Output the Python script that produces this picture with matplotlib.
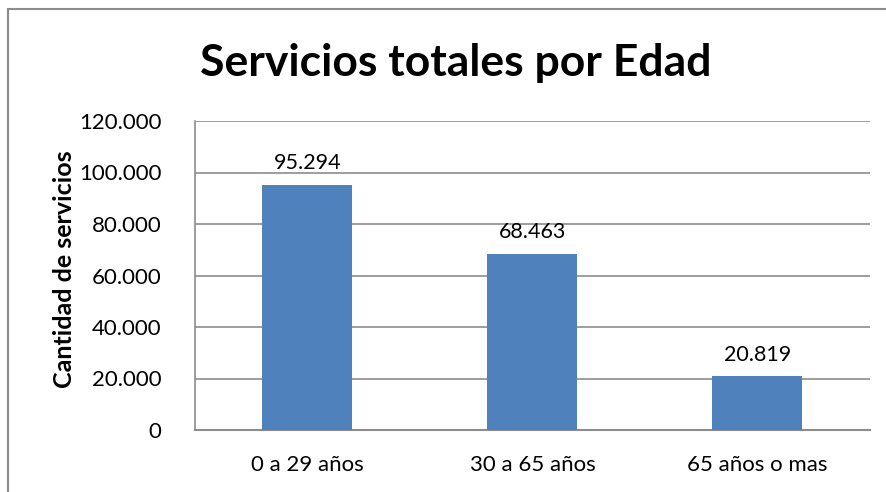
import matplotlib.pyplot as plt
from matplotlib.patches import Rectangle
from matplotlib.ticker import FuncFormatter

categorias = ["0 a 29 años", "30 a 65 años", "65 años o mas"]
servicios = [95294, 68463, 20819]
yticks = [0, 20000, 40000, 60000, 80000, 100000, 120000]

W, H = 887, 492
fig = plt.figure(figsize=(W / 100, H / 100), dpi=100)
plt.rcParams["font.family"] = ["Lato", "DejaVu Sans"]

# marco gris de la zona del grafico (sin borde derecho/inferior visibles)
fig.patches.append(Rectangle((8 / W, -0.1), 1.0, (H - 9) / H + 0.1,
                             transform=fig.transFigure, fill=False,
                             edgecolor="#8c8c8c", linewidth=1.5))

ax = fig.add_axes([195 / W, (H - 430) / H, 675 / W, (430 - 121) / H])

def miles(v, pos=None):
    return f"{int(v):,}".replace(",", ".")

x = range(len(categorias))
bars = ax.bar(x, servicios, width=0.4, color="#4F81BD", zorder=3)
for b, v in zip(bars, servicios):
    ax.text(b.get_x() + b.get_width() / 2, v + 4500, miles(v),
            ha="center", va="bottom", fontsize=15.5)

ax.set_xlim(-0.5, 2.5)
ax.set_ylim(0, 120000)
ax.set_yticks(yticks)
ax.yaxis.set_major_formatter(FuncFormatter(miles))
ax.set_xticks(list(x))
ax.set_xticklabels(categorias)
ax.tick_params(axis="both", length=0, labelsize=16)
ax.tick_params(axis="y", pad=24)
ax.tick_params(axis="x", pad=18)
ax.grid(axis="y", color="#8c8c8c", linewidth=1.2, zorder=0)

for s in ("top", "right"):
    ax.spines[s].set_visible(False)
ax.spines["left"].set_color("#8c8c8c")
ax.spines["bottom"].set_color("#8c8c8c")
ax.spines["left"].set_linewidth(1.2)
ax.spines["bottom"].set_linewidth(1.5)

ax.set_ylabel("Cantidad de servicios", fontsize=18, fontweight="bold")
ax.yaxis.set_label_coords((76 - 195) / 675, 0.52)
fig.text(456 / W, (H - 63) / H, "Servicios totales por Edad",
         ha="center", va="center", fontsize=32, fontweight="bold")

fig.savefig("out.png", dpi=100)
